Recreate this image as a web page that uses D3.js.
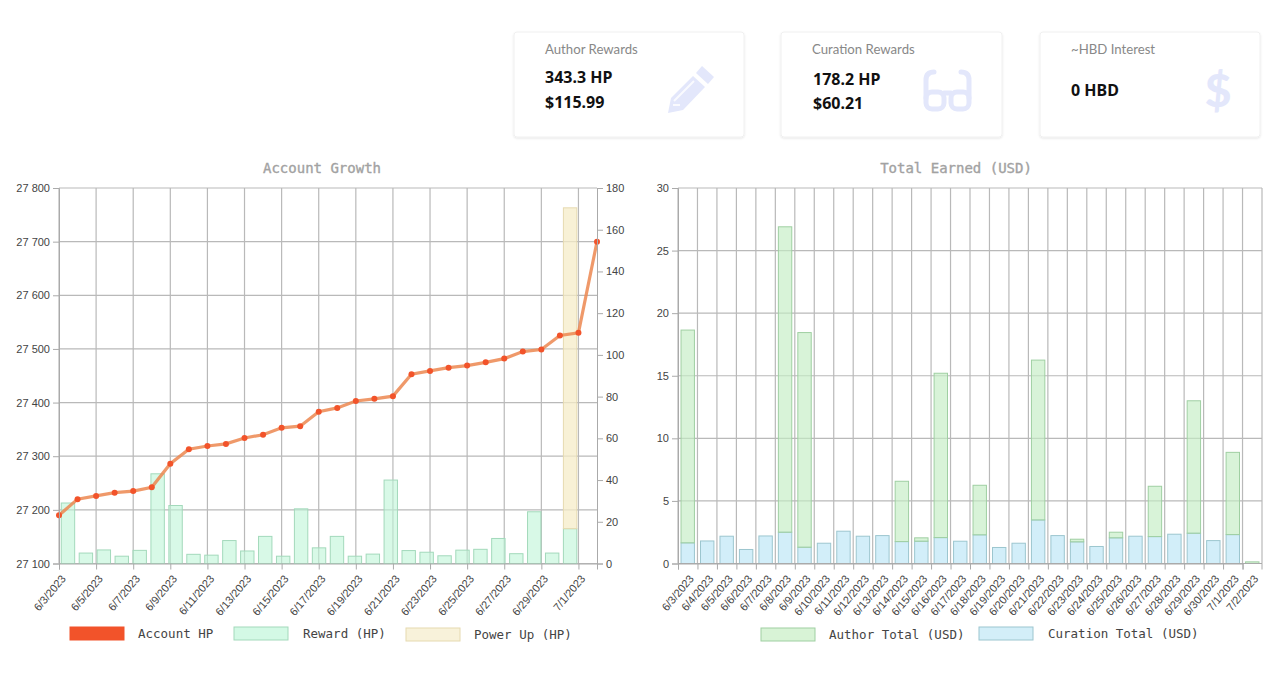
<!DOCTYPE html>
<html>
<head>
<meta charset="utf-8">
<script src="https://cdn.jsdelivr.net/npm/d3@7"></script>
<style>
html, body { margin: 0; padding: 0; background: #fff; overflow: hidden; }
.tick text { font-family: "Liberation Sans", Arial, sans-serif; font-size: 11px; fill: #444; }
.title { font-family: "DejaVu Sans Mono", monospace; font-size: 14px; fill: #a2a2a2; stroke: #a2a2a2; stroke-width: 0.35; text-anchor: middle; }
.legend { font-family: "DejaVu Sans Mono", monospace; font-size: 12.5px; fill: #444; }
.card-title { font-family: "Lato", sans-serif; font-size: 13.2px; fill: #888; }
.card-value { font-family: "Noto Sans", sans-serif; font-size: 16px; font-weight: 700; fill: #111; }
</style>
</head>
<body>
<svg id="chart" width="1280" height="677"></svg>
<script>
const dates = ["6/3/2023","6/4/2023","6/5/2023","6/6/2023","6/7/2023","6/8/2023","6/9/2023","6/10/2023","6/11/2023","6/12/2023",
  "6/13/2023","6/14/2023","6/15/2023","6/16/2023","6/17/2023","6/18/2023","6/19/2023","6/20/2023","6/21/2023","6/22/2023",
  "6/23/2023","6/24/2023","6/25/2023","6/26/2023","6/27/2023","6/28/2023","6/29/2023","6/30/2023","7/1/2023","7/2/2023"];

const accountHp = [27190,27220,27226,27232,27235,27242,27286,27313,27319,27323,
  27334,27340,27353,27356,27383,27390,27403,27407,27412,27453,
  27459,27465,27469,27475,27482,27495,27499,27525,27530,27700];
const rewardHp = [29,5,6.5,3.5,6.3,43,27.8,4.4,4,11,
  6,13,3.5,26.2,7.5,13,3.5,4.5,40,6.2,
  5.4,3.7,6.4,6.8,12,4.7,24.8,5,16.7,0];
const powerUpHp = [0,0,0,0,0,0,0,0,0,0,
  0,0,0,0,0,0,0,0,0,0,
  0,0,0,0,0,0,0,0,153.8,0];

const curationUsd = [1.65,1.8,2.18,1.12,2.2,2.5,1.3,1.62,2.58,2.18,
  2.23,1.75,1.78,2.07,1.78,2.29,1.28,1.62,3.48,2.23,
  1.73,1.36,2.05,2.18,2.15,2.34,2.42,1.83,2.31,0];
const authorUsd = [17,0,0,0,0,24.4,17.15,0,0,0,
  0,4.82,0.27,13.13,0,3.96,0,0,12.77,0,
  0.21,0,0.45,0,4.02,0,10.58,0,6.57,0.13];

const hpTicks = [27100,27200,27300,27400,27500,27600,27700,27800];
const rightTicks = [0,20,40,60,80,100,120,140,160,180];
const usdTicks = [0,5,10,15,20,25,30];

const cards = [
  { x: 514, w: 230, title: "Author Rewards", lines: ["343.3 HP", "$115.99"], tx: 545, vx: 545, ys: [83, 108] },
  { x: 781, w: 221, title: "Curation Rewards", lines: ["178.2 HP", "$60.21"], tx: 812, vx: 813, ys: [85, 109] },
  { x: 1040, w: 220, title: "~HBD Interest", lines: ["0 HBD"], tx: 1071, vx: 1071, ys: [96] }
];

const colors = {
  account: "#f2532a", line: "rgba(236,135,80,0.85)",
  rewardFill: "rgba(190,245,215,0.6)", rewardStroke: "#a3d9bb",
  powerFill: "rgba(245,236,200,0.75)", powerStroke: "#e6dab0",
  authorFill: "rgba(195,236,195,0.65)", authorStroke: "#9fcfa2",
  curationFill: "rgba(205,236,248,0.9)", curationStroke: "#9cc6cf",
  grid: "#b9b9b9", axis: "#aaa"
};

const svg = d3.select("#chart");
const barWidth = 13.4;

// cards
const defs = svg.append("defs");
const blur = defs.append("filter").attr("id", "shadow").attr("x", "-5%").attr("y", "-5%").attr("width", "110%").attr("height", "115%");
blur.append("feDropShadow").attr("dx", 0).attr("dy", 1).attr("stdDeviation", 1).attr("flood-color", "#000").attr("flood-opacity", 0.1);

cards.forEach(c => {
  svg.append("rect").attr("x", c.x).attr("y", 32).attr("width", c.w).attr("height", 105).attr("rx", 3)
    .attr("fill", "#fff").attr("stroke", "#f0f0f0").attr("filter", "url(#shadow)");
  svg.append("text").attr("class", "card-title").attr("x", c.tx).attr("y", 54).text(c.title);
  c.lines.forEach((t, i) => {
    svg.append("text").attr("class", "card-value").attr("x", c.vx).attr("y", c.ys[i]).text(t);
  });
});

// card icons
const iconColor = "#e3e7fb";
svg.append("path").attr("fill", iconColor)
  .attr("d", "M702 66 L714 77 L708 84 L696 73 Z M693 76 L705 87 L683 110 L668 113 L671 98 Z");
svg.append("path").attr("fill", "none").attr("stroke", "#fff").attr("stroke-width", 2).attr("opacity", 0.8)
  .attr("d", "M674 101 L694 81 M673 105 L680 105");
const glasses = svg.append("g").attr("fill", "none").attr("stroke", iconColor).attr("stroke-width", 5).attr("stroke-linecap", "round");
glasses.append("rect").attr("x", 926).attr("y", 92).attr("width", 18).attr("height", 17).attr("rx", 6);
glasses.append("rect").attr("x", 951).attr("y", 92).attr("width", 18).attr("height", 17).attr("rx", 6);
glasses.append("path").attr("d", "M926 98 L926 80 Q926 72 934 72 M969 98 L969 80 Q969 72 961 72 M944 93 L951 93");
svg.append("text").attr("x", 1218).attr("y", 107).attr("text-anchor", "middle")
  .attr("font-family", "Lato, sans-serif").attr("font-weight", 900).attr("font-size", 46).attr("fill", iconColor).text("$");

function styleAxis(g) {
  g.selectAll(".domain").attr("stroke", colors.axis);
  g.selectAll(".tick line").attr("stroke", colors.axis);
}

// dx: how far the end of the label sits to the right of its tick
function rotateLabels(g, dx) {
  g.selectAll("text")
    .attr("text-anchor", "end")
    .attr("x", 0).attr("y", 0).attr("dy", "0.35em")
    .attr("transform", `translate(${dx},13) rotate(-50)`);
}

function swatch(x, w, fill, stroke, label, labelX, y) {
  svg.append("rect").attr("x", x).attr("y", y).attr("width", w).attr("height", 13)
    .attr("fill", fill).attr("stroke", stroke);
  svg.append("text").attr("class", "legend").attr("x", labelX).attr("y", y + 11).text(label);
}

// left chart: Account Growth
const L = { left: 59, right: 597, top: 188, bottom: 563.5 };
const xPoint = d3.scalePoint().domain(dates).range([L.left, L.right]);
const xBand = d3.scaleBand().domain(dates).range([L.left, L.right]);
const yHp = d3.scaleLinear().domain([27100, 27800]).range([L.bottom, L.top]);
const yRight = d3.scaleLinear().domain([0, 180]).range([L.bottom, L.top]);
const everyOther = dates.filter((d, i) => i % 2 === 0 && i < 29);

const gridL = svg.append("g").attr("stroke", colors.grid).attr("stroke-width", 1.2);
gridL.selectAll("line.h").data(hpTicks).join("line").attr("class", "h")
  .attr("x1", L.left).attr("x2", L.right).attr("y1", d => yHp(d)).attr("y2", d => yHp(d));
gridL.selectAll("line.v").data(everyOther).join("line").attr("class", "v")
  .attr("x1", d => xPoint(d)).attr("x2", d => xPoint(d)).attr("y1", L.top).attr("y2", L.bottom);

const barCenter = d => xBand(d) + xBand.bandwidth() / 2 - barWidth / 2;
svg.append("g").selectAll("rect").data(dates.filter((d, i) => rewardHp[i] > 0)).join("rect")
  .attr("x", barCenter).attr("width", barWidth)
  .attr("y", d => yRight(rewardHp[dates.indexOf(d)]))
  .attr("height", d => L.bottom - yRight(rewardHp[dates.indexOf(d)]))
  .attr("fill", colors.rewardFill).attr("stroke", colors.rewardStroke);
svg.append("g").selectAll("rect").data(dates.filter((d, i) => powerUpHp[i] > 0)).join("rect")
  .attr("x", barCenter).attr("width", barWidth)
  .attr("y", d => { const i = dates.indexOf(d); return yRight(rewardHp[i] + powerUpHp[i]); })
  .attr("height", d => { const i = dates.indexOf(d); return yRight(rewardHp[i]) - yRight(rewardHp[i] + powerUpHp[i]); })
  .attr("fill", colors.powerFill).attr("stroke", colors.powerStroke);

const hpLine = d3.line().x((d, i) => xPoint(dates[i])).y(d => yHp(d));
svg.append("path").datum(accountHp).attr("d", hpLine).attr("fill", "none")
  .attr("stroke", colors.line).attr("stroke-width", 3.2);
svg.append("g").selectAll("circle").data(accountHp).join("circle")
  .attr("cx", (d, i) => xPoint(dates[i])).attr("cy", d => yHp(d)).attr("r", 3).attr("fill", colors.account);

svg.append("g").attr("transform", `translate(${L.left},0)`)
  .call(d3.axisLeft(yHp).tickValues(hpTicks).tickSize(6).tickFormat(d => d3.format(",")(d).replace(",", " ")))
  .call(styleAxis);
svg.append("g").attr("transform", `translate(${L.right},0)`)
  .call(d3.axisRight(yRight).tickValues(rightTicks).tickSize(6))
  .call(styleAxis);
svg.append("g").attr("transform", `translate(0,${L.bottom})`)
  .call(d3.axisBottom(xPoint).tickValues(everyOther).tickSize(6))
  .call(styleAxis).call(rotateLabels, 4);

svg.append("text").attr("class", "title").attr("x", 322).attr("y", 173).text("Account Growth");
swatch(70, 54, colors.account, colors.account, "Account HP", 138, 627);
swatch(234, 54, "rgba(200,247,222,0.8)", colors.rewardStroke, "Reward (HP)", 303, 627);
swatch(406, 54, "#f8f2da", colors.powerStroke, "Power Up (HP)", 474, 628);

// right chart: Total Earned (USD)
const R = { left: 678, right: 1262, top: 188, bottom: 563.5 };
const xBandR = d3.scaleBand().domain(dates).range([R.left, R.right]);
const xEdge = d3.scalePoint().domain(dates).range([R.left, R.left + xBandR.step() * 29]);
const yUsd = d3.scaleLinear().domain([0, 30]).range([R.bottom, R.top]);

const gridR = svg.append("g").attr("stroke", colors.grid).attr("stroke-width", 1.2);
gridR.selectAll("line.h").data(usdTicks).join("line").attr("class", "h")
  .attr("x1", R.left).attr("x2", R.right).attr("y1", d => yUsd(d)).attr("y2", d => yUsd(d));
gridR.selectAll("line.v").data(dates).join("line").attr("class", "v")
  .attr("x1", d => xEdge(d)).attr("x2", d => xEdge(d)).attr("y1", R.top).attr("y2", R.bottom);
gridR.append("line").attr("x1", R.right).attr("x2", R.right).attr("y1", R.top).attr("y2", R.bottom);

const barCenterR = d => xBandR(d) + xBandR.bandwidth() / 2 - barWidth / 2;
svg.append("g").selectAll("rect").data(dates.filter((d, i) => curationUsd[i] > 0)).join("rect")
  .attr("x", barCenterR).attr("width", barWidth)
  .attr("y", d => yUsd(curationUsd[dates.indexOf(d)]))
  .attr("height", d => R.bottom - yUsd(curationUsd[dates.indexOf(d)]))
  .attr("fill", colors.curationFill).attr("stroke", colors.curationStroke);
svg.append("g").selectAll("rect").data(dates.filter((d, i) => authorUsd[i] > 0)).join("rect")
  .attr("x", barCenterR).attr("width", barWidth)
  .attr("y", d => { const i = dates.indexOf(d); return yUsd(curationUsd[i] + authorUsd[i]); })
  .attr("height", d => { const i = dates.indexOf(d); return yUsd(curationUsd[i]) - yUsd(curationUsd[i] + authorUsd[i]); })
  .attr("fill", colors.authorFill).attr("stroke", colors.authorStroke);

svg.append("g").attr("transform", `translate(${R.left},0)`)
  .call(d3.axisLeft(yUsd).tickValues(usdTicks).tickSize(6))
  .call(styleAxis);
svg.append("g").attr("transform", `translate(0,${R.bottom})`)
  .call(d3.axisBottom(xEdge).tickValues(dates).tickSize(6))
  .call(styleAxis).call(rotateLabels, 13);
svg.append("line").attr("x1", R.right).attr("x2", R.right).attr("y1", R.bottom).attr("y2", R.bottom + 6).attr("stroke", colors.axis);
svg.append("line").attr("x1", R.left).attr("x2", R.right).attr("y1", R.bottom).attr("y2", R.bottom).attr("stroke", colors.axis);

svg.append("text").attr("class", "title").attr("x", 956).attr("y", 173).text("Total Earned (USD)");
swatch(761, 54, "#d8f3d6", colors.authorStroke, "Author Total (USD)", 829, 628);
swatch(979, 54, "#d3eef8", colors.curationStroke, "Curation Total (USD)", 1048, 627);
</script>
</body>
</html>
